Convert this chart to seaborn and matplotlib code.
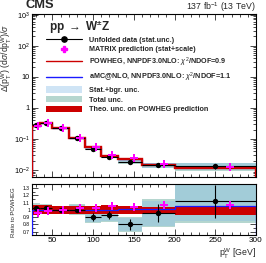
import numpy as np
import pandas as pd
import matplotlib
matplotlib.use("Agg")
import matplotlib.pyplot as plt
import seaborn as sns
from matplotlib.lines import Line2D
from matplotlib.patches import Patch
from matplotlib.ticker import MultipleLocator, LogLocator, NullFormatter

# ---------------- data ----------------
bin_edges = [25, 35, 50, 70, 90, 110, 130, 160, 200, 300]
powheg = [0.265, 0.32, 0.22, 0.105, 0.055, 0.029, 0.023, 0.015, 0.0118]
data_ratio = [1.027, 1.02, 1.0, 1.005, 0.90, 0.925, 0.80, 0.955, 1.115]
data_stat = [0.02, 0.02, 0.02, 0.03, 0.065, 0.06, 0.10, 0.13, 0.20]
stat_unc = [0.045, 0.04, 0.03, 0.065, 0.08, 0.09, 0.11, 0.18, 0.24]
total_unc = [0.065, 0.055, 0.04, 0.08, 0.095, 0.10, 0.13, 0.20, 0.27]
matrix_ratio = [0.96, 0.99, 1.0, 1.027, 1.03, 1.05, 1.045, 1.067, 1.067]
amc_ratio = [1.0, 1.0, 0.995, 1.0, 1.0, 1.005, 1.01, 1.013, 1.057]
theo_up = [1.065, 1.06, 1.05, 1.05, 1.055, 1.06, 1.055, 1.04, 1.055]
theo_dn = [0.935, 0.94, 0.95, 0.95, 0.945, 0.94, 0.94, 0.945, 0.93]

legend_labels = [
    "Unfolded data (stat.unc.)",
    "MATRIX prediction (stat+scale)",
    r"POWHEG, NNPDF3.0NLO: $\chi^{2}$/NDOF=0.9",
    r"aMC@NLO, NNPDF3.0NLO: $\chi^{2}$/NDOF=1.1",
    "Stat.+bgr. unc.",
    "Total unc.",
    "Theo. unc. on POWHEG prediction",
]

# ---------------- style ----------------
sns.set_theme(style="ticks")
plt.rcParams["font.family"] = ["Liberation Sans", "DejaVu Sans"]
plt.rcParams["mathtext.fontset"] = "custom"
plt.rcParams["mathtext.rm"] = "Liberation Sans"
plt.rcParams["mathtext.it"] = "Liberation Sans:italic"
plt.rcParams["mathtext.bf"] = "Liberation Sans:bold"
plt.rcParams["axes.linewidth"] = 0.8

C_STAT = "#87bde6"
C_TOT = "#b5d6cf"
C_RED = "#cc0000"
C_BLUE = "#1a1aff"
C_MAG = "#ff00ff"

edges = np.array(bin_edges, float)
centers = 0.5 * (edges[:-1] + edges[1:])
widths = np.diff(edges)
pw = np.array(powheg)
dr = np.array(data_ratio)
data_val = pw * dr
df = pd.DataFrame({
    "x": centers,
    "xm": centers + 0.18 * widths,
    "data": data_val,
    "matrix": pw * np.array(matrix_ratio),
    "data_r": dr,
    "matrix_r": np.array(matrix_ratio),
})

W, H = 266, 263
fig = plt.figure(figsize=(W / 100, H / 100), dpi=100)
L, R = 32 / W, 256 / W
ax = fig.add_axes([L, 1 - 177 / H, R - L, (177 - 14) / H])
axr = fig.add_axes([L, 1 - 235 / H, R - L, (235 - 184) / H])

# ---------------- upper panel ----------------
tot = np.array(total_unc)
st = np.array(stat_unc)
ax.bar(centers, 2 * tot * data_val, bottom=data_val * (1 - tot), width=widths,
       color=C_TOT, linewidth=0, zorder=1)
ax.bar(centers, 2 * st * data_val, bottom=data_val * (1 - st), width=widths,
       color=C_STAT, alpha=0.4, linewidth=0, zorder=1.5)
ax.stairs(pw * np.array(amc_ratio), edges, color=C_BLUE, lw=0.9, zorder=2)
ax.stairs(pw * np.array(theo_up), edges, baseline=pw * np.array(theo_dn),
          fill=True, color=C_RED, lw=0, zorder=3)
ax.stairs(pw, edges, color=C_RED, lw=1.7, zorder=3)
ax.errorbar(centers, data_val, xerr=widths / 2, yerr=data_val * np.array(data_stat),
            fmt="none", ecolor="black", elinewidth=0.8, zorder=4)
sns.scatterplot(data=df, x="x", y="data", ax=ax, color="black", s=15,
                edgecolor="black", linewidth=0, zorder=5, legend=False)
sns.scatterplot(data=df, x="xm", y="matrix", ax=ax, color=C_MAG, marker="P", s=26,
                edgecolor=C_MAG, linewidth=0, zorder=6, legend=False)

ax.set_yscale("log")
ax.set_ylim(6e-3, 1.05e3)
ax.set_xlim(25, 300)
ax.set_yticks([1e-2, 1e-1, 1, 10, 1e2, 1e3],
              labels=["$10^{-2}$", "$10^{-1}$", "1", "10", "$10^{2}$", "$10^{3}$"])
ax.yaxis.set_minor_locator(LogLocator(base=10, subs=np.arange(2, 10), numticks=20))
ax.yaxis.set_minor_formatter(NullFormatter())
ax.xaxis.set_major_locator(MultipleLocator(50))
ax.xaxis.set_minor_locator(MultipleLocator(10))
ax.set_xticklabels([])
ax.set_xlabel("")
ax.set_ylabel("")
for a in (ax, axr):
    a.tick_params(which="both", direction="in", top=True, right=True,
                  labelsize=5.2, pad=1.5, width=0.5, colors="black")
    a.tick_params(which="major", length=4)
    a.tick_params(which="minor", length=2)
    for s in a.spines.values():
        s.set_linewidth(0.8)
        s.set_color("black")

# ---------------- ratio panel ----------------
axr.bar(centers, 2 * tot * dr, bottom=dr * (1 - tot), width=widths,
        color=C_TOT, linewidth=0, zorder=1)
axr.bar(centers, 2 * st * dr, bottom=dr * (1 - st), width=widths,
        color=C_STAT, alpha=0.4, linewidth=0, zorder=1.5)
axr.stairs(np.array(theo_up), edges, baseline=np.array(theo_dn),
           fill=True, color=C_RED, lw=0, zorder=2)
axr.stairs(np.array(amc_ratio), edges, color=C_BLUE, lw=0.9, zorder=3)
axr.errorbar(centers, dr, xerr=widths / 2, yerr=np.array(data_stat) * dr,
             fmt="none", ecolor="black", elinewidth=0.8, zorder=4)
sns.scatterplot(data=df, x="x", y="data_r", ax=axr, color="black", s=15,
                edgecolor="black", linewidth=0, zorder=5, legend=False)
sns.scatterplot(data=df, x="xm", y="matrix_r", ax=axr, color=C_MAG, marker="P", s=26,
                edgecolor=C_MAG, linewidth=0, zorder=6, legend=False)
axr.set_xlim(25, 300)
axr.set_ylim(0.655, 1.355)
axr.set_yticks([0.7, 0.8, 0.9, 1.0, 1.1, 1.2, 1.3],
               labels=["0.7", "0.8", "0.9", "1", "1.1", "1.2", "1.3"])
axr.yaxis.set_minor_locator(MultipleLocator(0.05))
axr.tick_params(axis="y", labelsize=3.6)
axr.tick_params(axis="x", labelsize=5.9, pad=1.5)
axr.xaxis.set_major_locator(MultipleLocator(50))
axr.xaxis.set_minor_locator(MultipleLocator(10))
axr.set_xlabel("")
axr.set_ylabel("")

# ---------------- texts ----------------
fig.text(25 / W, 1 - 5.5 / H, "CMS", fontsize=9.3, fontweight="bold",
         ha="left", va="center")
fig.text(256 / W, 1 - 7 / H, r"137 fb$^{-1}$ (13 TeV)", fontsize=6.3,
         ha="right", va="center")
fig.text(49 / W, 1 - 27.5 / H, r"pp $\rightarrow$ $\mathbf{W^{\pm}Z}$", fontsize=8.5,
         fontweight="bold", ha="left", va="center")
fig.text(6.5 / W, 1 - 24 / H,
         r"$\Delta$(p$_{\mathrm{T}}^{\mathrm{W}}$) (d$\sigma$/dp$_{\mathrm{T}}^{\mathrm{W}}$)/$\sigma$",
         fontsize=6.2, rotation=90, ha="center", va="top")
fig.text(14 / W, 1 - 212 / H, "Ratio to POWHEG", fontsize=4.3, rotation=90,
         ha="center", va="center")
fig.text(256 / W, 1 - 253.5 / H, r"p$_{\mathrm{T}}^{\mathrm{W}}$ [GeV]", fontsize=6.3,
         ha="right", va="center")

# ---------------- legend ----------------
handles = [
    Line2D([0], [0], color="black", lw=0.8, marker="o", markersize=3.8),
    Line2D([0], [0], color=C_MAG, lw=0, marker="P", markersize=4.8),
    Line2D([0], [0], color=C_RED, lw=1.0),
    Line2D([0], [0], color=C_BLUE, lw=1.0),
    Patch(facecolor=C_STAT, alpha=0.4, edgecolor="none"),
    Patch(facecolor=C_TOT, edgecolor="none"),
    Patch(facecolor=C_RED, edgecolor="none"),
]
leg = fig.legend(handles, legend_labels, loc="upper left",
                 bbox_to_anchor=(46 / W, 1 - 36 / H), bbox_transform=fig.transFigure,
                 frameon=False, handlelength=5.0, handleheight=1.0,
                 handletextpad=0.9, labelspacing=0.28, borderpad=0, borderaxespad=0,
                 prop={"weight": "bold", "size": 5.2})

fig.savefig("out.png", dpi=100)
